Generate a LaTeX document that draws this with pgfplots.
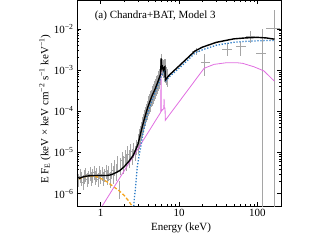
\documentclass[border=0pt]{standalone}
\usepackage{pgfplots}
\pgfplotsset{compat=1.18}
\usepackage{fontspec}
\setmainfont{Liberation Serif}
\definecolor{mblue}{RGB}{45,125,200}
\definecolor{morange}{RGB}{245,165,30}
\definecolor{mviolet}{RGB}{225,110,225}
\definecolor{mgrey}{RGB}{165,165,165}
\begin{document}
\begin{tikzpicture}[font=\fontsize{11}{13}\selectfont]
\begin{axis}[
  scale only axis, width=204pt, height=206pt,
  xmode=log, ymode=log,
  xmin=0.5, xmax=200, ymin=5e-7, ymax=0.05,
  xtick={1,10,100}, xticklabels={1,10,100},
  ytick={1e-6,1e-5,1e-4,1e-3,1e-2},
  yticklabels={10\textsuperscript{−6},10\textsuperscript{−5},10\textsuperscript{−4},10\textsuperscript{−3},10\textsuperscript{−2}},
  tick align=inside,
  major tick length=4.5pt, minor tick length=2.5pt,
  axis line style={line width=0.6pt},
  every tick/.style={line width=0.5pt},
  xlabel={Energy (keV)},
  ylabel={E F\textsubscript{E} (keV × keV cm\textsuperscript{−2} s\textsuperscript{−1} keV\textsuperscript{−1})},
  xlabel style={at={(axis description cs:0.51,-0.107)}, anchor=center},
  ylabel style={at={(axis description cs:-0.157,0.47)}, anchor=center},
]
% Chandra data (relative errors)
\addplot[draw=none, mark=none,
  error bars/.cd, y dir=both, y explicit relative, x dir=both, x explicit relative,
  error mark=none, error bar style={draw=mgrey, line width=0.6pt}]
  table[x=E, y=F, y error plus=ep, y error minus=em, x error=ex] {
E F ep em ex
0.52 2.1e-6 0.45 0.33 0.02
0.545 2.7e-6 0.45 0.33 0.02
0.57 2.3e-6 0.45 0.33 0.02
0.595 1.9e-6 0.50 0.35 0.02
0.62 2.6e-6 0.45 0.33 0.02
0.645 2.9e-6 0.45 0.33 0.02
0.67 2.2e-6 0.45 0.33 0.02
0.70 2.5e-6 0.45 0.33 0.02
0.73 3.0e-6 0.45 0.33 0.02
0.76 2.3e-6 0.45 0.33 0.02
0.79 2.7e-6 0.45 0.33 0.02
0.82 3.2e-6 0.45 0.33 0.02
0.855 2.4e-6 0.45 0.33 0.02
0.89 2.9e-6 0.45 0.33 0.02
0.925 2.2e-6 0.45 0.33 0.02
0.96 3.3e-6 0.45 0.33 0.02
1.00 2.6e-6 0.45 0.33 0.02
1.04 3.0e-6 0.45 0.33 0.02
1.08 2.3e-6 0.45 0.33 0.02
1.12 2.8e-6 0.45 0.33 0.02
1.17 3.4e-6 0.45 0.33 0.02
1.22 2.5e-6 0.50 0.35 0.02
1.27 3.1e-6 0.50 0.35 0.02
1.32 2.2e-6 0.55 0.38 0.02
1.38 3.6e-6 0.55 0.38 0.02
1.44 2.9e-6 0.60 0.40 0.02
1.50 4.2e-6 0.55 0.38 0.02
1.57 3.3e-6 0.60 0.40 0.02
1.64 5.2e-6 0.55 0.38 0.02
1.72 1.2e-6 0.70 0.40 0.02
1.79 4.6e-6 0.60 0.40 0.02
1.87 6.5e-6 0.55 0.38 0.02
1.95 5.0e-6 0.60 0.40 0.02
2.04 7.5e-6 0.55 0.38 0.02
2.13 5.8e-6 0.60 0.40 0.02
2.22 9.0e-6 0.55 0.38 0.02
2.32 7.0e-6 0.60 0.40 0.02
2.42 1.05e-5 0.50 0.35 0.02
2.53 8.0e-6 0.55 0.38 0.02
2.64 1.1e-5 0.50 0.35 0.02
2.76 9.5e-6 0.50 0.35 0.02
2.88 1.3e-5 0.50 0.35 0.015
3.00 1.8e-5 0.55 0.38 0.015
3.05 1.5e-5 0.55 0.38 0.015
3.10 2.4e-5 0.55 0.38 0.015
3.15 2.0e-5 0.55 0.38 0.015
3.20 2.9e-5 0.55 0.38 0.015
3.25 2.6e-5 0.55 0.38 0.015
3.30 3.6e-5 0.55 0.38 0.015
3.35 3.2e-5 0.55 0.38 0.015
3.40 4.6e-5 0.55 0.38 0.015
3.45 4.0e-5 0.55 0.38 0.015
3.50 5.4e-5 0.55 0.38 0.015
3.55 4.9e-5 0.55 0.38 0.015
3.60 6.8e-5 0.55 0.38 0.015
3.65 6.0e-5 0.55 0.38 0.015
3.70 8.0e-5 0.55 0.38 0.015
3.75 7.2e-5 0.55 0.38 0.015
3.80 9.6e-5 0.55 0.38 0.015
3.85 8.6e-5 0.55 0.38 0.015
3.90 1.12e-4 0.55 0.38 0.015
3.95 1.0e-4 0.55 0.38 0.015
4.00 1.3e-4 0.55 0.38 0.015
4.05 1.2e-4 0.55 0.38 0.015
4.10 1.5e-4 0.55 0.38 0.015
4.15 1.35e-4 0.55 0.38 0.015
4.20 1.7e-4 0.55 0.38 0.015
4.25 1.55e-4 0.55 0.38 0.015
4.30 1.95e-4 0.55 0.38 0.015
4.35 1.75e-4 0.55 0.38 0.015
4.40 2.1e-4 0.55 0.38 0.015
4.45 2.0e-4 0.55 0.38 0.015
4.50 2.45e-4 0.55 0.38 0.015
4.55 2.2e-4 0.55 0.38 0.015
4.60 2.65e-4 0.55 0.38 0.015
4.65 2.45e-4 0.55 0.38 0.015
4.70 2.95e-4 0.55 0.38 0.015
4.75 2.7e-4 0.55 0.38 0.015
4.80 3.2e-4 0.55 0.38 0.015
4.85 2.9e-4 0.55 0.38 0.015
4.90 3.5e-4 0.55 0.38 0.015
4.95 3.2e-4 0.55 0.38 0.015
5.00 3.8e-4 0.55 0.38 0.015
5.05 3.5e-4 0.55 0.38 0.015
5.10 4.1e-4 0.55 0.38 0.015
5.15 3.8e-4 0.55 0.38 0.015
5.20 4.5e-4 0.55 0.38 0.015
5.25 4.2e-4 0.55 0.38 0.015
5.30 5.0e-4 0.55 0.38 0.015
5.35 4.6e-4 0.55 0.38 0.015
5.40 5.5e-4 0.55 0.38 0.015
5.45 5.1e-4 0.55 0.38 0.015
5.50 6.1e-4 0.55 0.38 0.015
5.55 5.6e-4 0.55 0.38 0.015
5.60 6.7e-4 0.55 0.38 0.015
5.65 6.2e-4 0.55 0.38 0.015
5.70 7.5e-4 0.55 0.38 0.015
5.75 7.0e-4 0.55 0.38 0.015
5.80 9.5e-4 0.55 0.38 0.015
5.85 1.1e-3 0.55 0.38 0.015
5.90 1.6e-3 0.50 0.35 0.015
5.95 1.5e-3 0.50 0.35 0.015
6.00 1.4e-3 0.50 0.35 0.015
6.05 1.2e-3 0.50 0.35 0.015
6.10 1.1e-3 0.50 0.35 0.015
6.15 1.25e-3 0.50 0.35 0.015
6.20 1.2e-3 0.50 0.35 0.015
6.25 1.05e-3 0.50 0.35 0.015
6.30 1.0e-3 0.50 0.35 0.015
6.35 1.15e-3 0.50 0.35 0.015
6.40 1.2e-3 0.50 0.35 0.015
6.45 1.05e-3 0.50 0.35 0.015
6.50 1.1e-3 0.50 0.35 0.015
6.55 1.2e-3 0.50 0.35 0.015
6.60 1.25e-3 0.50 0.35 0.015
6.65 1.0e-3 0.50 0.35 0.015
6.70 8.0e-4 0.55 0.38 0.015
6.80 7.0e-4 0.55 0.38 0.015
6.90 7.5e-4 0.55 0.38 0.015
7.00 6.5e-4 0.60 0.40 0.015
};
% BAT data (absolute errors)
\addplot[draw=none, mark=none,
  error bars/.cd, y dir=both, y explicit, x dir=both, x explicit,
  error mark=none, error bar style={draw=mgrey, line width=0.7pt}]
  table[x=E, y=F, y error plus=yp, y error minus=ym, x error plus=xp, x error minus=xm] {
E F yp ym xp xm
16.5 2.9e-3 0.5e-3 0.6e-3 2.0 2.0
21.3 1.5e-3 0.9e-3 0.8e-3 3.2 2.4
41.7 3.2e-3 1.3e-3 1.0e-3 6.3 5.9
61.5 3.7e-3 1.2e-3 1.5e-3 9.5 8.5
82 6.5e-3 2.1e-3 2.0e-3 11 11
116 2.5e-3 7.5e-3 2.4999e-3 12 19
164 1.0e-2 1.9e-2 0.99999e-2 31 36
};
% soft component (orange dashed)
\addplot[morange, line width=1.3pt, dash pattern=on 3.5pt off 2pt] coordinates {
(0.53,2.25e-6) (0.6,2.55e-6) (0.75,2.7e-6) (0.9,2.55e-6) (1.0,2.35e-6)
(1.2,1.95e-6) (1.48,1.45e-6) (1.75,1.15e-6) (2.0,9e-7) (2.3,6.5e-7) (2.6,4.5e-7)
};
% reflection (violet)
\addplot[mviolet, line width=0.8pt] coordinates {
(1.05,5e-7) (1.5,1.49e-6) (2.0,3.57e-6) (2.5,7.06e-6) (3.0,1.23e-5) (3.5,1.97e-5)
(4.0,2.96e-5) (4.5,4.24e-5) (5.0,5.85e-5) (5.5,7.8e-5) (5.85,9.4e-5)
(5.9,1.0e-3) (5.95,1.0e-4) (6.2,1.1e-4) (6.4,1.15e-4) (6.45,2.0e-4) (6.5,1.2e-4)
(6.64,1.2e-4) (6.68,6e-5) (20.9,1.1e-3) (28,1.37e-3) (40,1.5e-3) (55,1.5e-3)
(65,1.45e-3) (90,1.2e-3) (121,9.5e-4) (164,5.4e-4)
};
% transmitted (blue dotted)
\addplot[mblue, line width=1.3pt, dash pattern=on 1.3pt off 1.7pt] coordinates {
(2.6,3e-7) (2.7,8e-7) (2.8,1.5e-6) (2.94,4.5e-6) (3.1,8.5e-6) (3.24,1.3e-5)
(3.4,2.3e-5) (3.6,4e-5) (3.8,6.3e-5) (4.0,9e-5) (4.5,1.8e-4) (5.0,2.9e-4)
(5.5,4.7e-4) (6.0,7.5e-4) (6.62,1.0e-3) (6.68,5.2e-4) (7.5,6.8e-4) (10,1.1e-3)
(13,1.75e-3) (16,2.6e-3) (20,3.1e-3) (30,4.0e-3) (50,4.7e-3) (70,4.95e-3)
(100,5.1e-3) (130,5.2e-3) (165,5.2e-3)
};
% total (black)
\addplot[black, line width=1.4pt] coordinates {
(0.52,2.5e-6) (0.54,2.35e-6) (0.58,2.5e-6) (0.65,2.65e-6) (0.8,2.75e-6) (1.0,2.75e-6)
(1.2,2.75e-6) (1.35,2.85e-6) (1.5,3.1e-6) (1.75,3.6e-6) (2.0,4.5e-6) (2.3,6.1e-6)
(2.6,8.4e-6) (2.8,1.15e-5) (3.0,1.6e-5) (3.24,2.9e-5) (3.4,4.2e-5) (3.6,6.3e-5)
(3.8,9e-5) (4.0,1.25e-4) (4.5,2.3e-4) (5.0,3.6e-4) (5.5,5.8e-4) (5.85,8.2e-4)
(5.92,1.9e-3) (6.0,1.1e-3) (6.15,1.2e-3) (6.3,1.0e-3) (6.45,1.15e-3) (6.62,1.2e-3)
(6.68,5.7e-4) (7.5,7.5e-4) (10,1.25e-3) (13,2.0e-3) (16,2.9e-3) (20,3.6e-3)
(30,4.7e-3) (50,5.7e-3) (70,6.0e-3) (100,6.2e-3) (130,6.0e-3) (165,5.6e-3)
};
\node[anchor=west] at (rel axis cs:0.07,0.924) {(a) Chandra+BAT, Model 3};
\end{axis}
\pgfresetboundingbox
\path[use as bounding box] ([shift={(-77pt,-35pt)}]current axis.south west) rectangle ([shift={(31pt,0pt)}]current axis.north east);
\end{tikzpicture}
\end{document}
